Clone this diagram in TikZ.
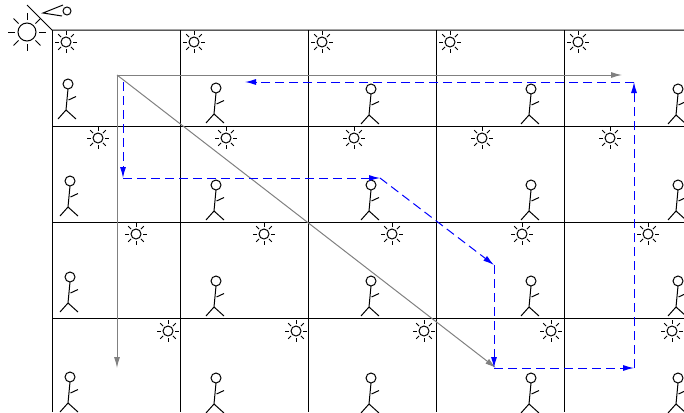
\documentclass[tikz,border=0pt]{standalone}
\usepackage{tikz}
\usetikzlibrary{arrows.meta}
\tikzset{
sun/.pic={
    \draw (0,0) circle[radius=2.5pt];
    \foreach \a in {0,45,...,315} \draw (\a:7) -- (\a:11);
},
bigsun/.pic={
    \draw (0,0) circle[radius=4.5pt];
    \foreach \a in {0,45,...,315} \draw (\a:12) -- (\a:19);
},
walker/.pic={
    \draw (0,0) circle[radius=2.5pt];
    \draw (0,5) -- (-2,26) -- (-10,35);
    \draw (-2,26) -- (8,35);
    \draw (0.5,16) -- (8,12.5);
},
axis arrow/.style={gray, -{Latex[length=5.5pt,width=3pt]}},
path arrow/.style={blue, dash pattern=on 4.5pt off 2.5pt, -{Latex[length=5.5pt,width=3pt]}},
}

\begin{document}
\begin{tikzpicture}[x=0.5pt, y=-0.5pt, line width=0.5pt]
    \clip (0,0) rectangle (684,412);
    % frames
    \draw (27,5) -- (52,30) -- (684,30);
    \draw (52,30) -- (52,412);
    \foreach \x in {180,308,436,564} \draw (\x,30) -- (\x,412);
    \foreach \y in {126,222,318} \draw (52,\y) -- (684,\y);
    % observer in the corner
    \pic at (27,32) {bigsun};
    \draw (63,5) -- (43,13) -- (62,16);
    \draw (67,11) circle[radius=2pt];
    % suns, one per frame
    \foreach \p in {(66,42),(194,42),(322,42),(450,42),(578,42),
                    (98,138),(226,138),(354,138),(482,138),(610,138),
                    (136,234),(264,234),(392,234),(522,234),(648,234),
                    (168,331),(296,331),(424,331),(551,331),(672,331)}
        \pic at \p {sun};
    % walkers, one per frame
    \foreach \p in {(68,84),(216,88),(371,89),(531,89),(678,89),
                    (70,181),(216,185),(371,185),(531,185),(678,185),
                    (70,277),(216,281),(371,281),(531,281),(678,281),
                    (70,377),(216,378),(371,378),(531,378),(678,378)}
        \pic at \p {walker};
    % axes
    \coordinate (O) at (117,75);
    \coordinate (xend) at (622,75);
    \coordinate (yend) at (117,368);
    \coordinate (dend) at (496,368);
    \draw[axis arrow] (O) -- (xend);
    \draw[axis arrow] (O) -- (yend);
    \draw[axis arrow] (O) -- (dend);
    % dashed loop through the frames
    \coordinate (p1) at (123,82);
    \coordinate (p2) at (123,178);
    \coordinate (p3) at (380,178);
    \coordinate (p4) at (494,265);
    \coordinate (p5) at (494,368);
    \coordinate (p6) at (634,368);
    \coordinate (p7) at (634,82);
    \coordinate (p8) at (245,82);
    \draw[path arrow] (p1) -- (p2);
    \draw[path arrow] (p2) -- (p3);
    \draw[path arrow] (p3) -- (p4);
    \draw[path arrow] (p4) -- (p5);
    \draw[path arrow] (p5) -- (p6);
    \draw[path arrow] (p6) -- (p7);
    \draw[path arrow] (p7) -- (p8);
\end{tikzpicture}
\end{document}
